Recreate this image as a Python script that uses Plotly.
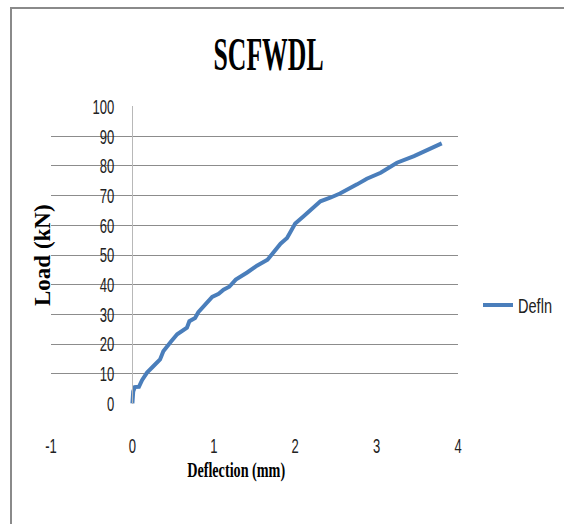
import plotly.graph_objects as go

# Data
deflection = [0.00, 0.01, 0.03, 0.08, 0.12, 0.18, 0.26, 0.34, 0.38, 0.42, 0.48, 0.55,
              0.61, 0.67, 0.70, 0.77, 0.81, 0.86, 0.92, 0.98, 1.06, 1.12, 1.19, 1.27,
              1.41, 1.53, 1.66, 1.82, 1.90, 1.96, 2.00, 2.10, 2.21, 2.31, 2.43, 2.55,
              2.76, 2.88, 3.05, 3.25, 3.46, 3.62, 3.80]
load = [0.0, 4.0, 5.5, 5.6, 7.9, 10.4, 12.6, 14.8, 17.6, 19.1, 21.0, 23.3,
        24.6, 25.5, 27.7, 28.8, 30.7, 32.2, 34.4, 35.9, 36.9, 38.3, 39.3, 41.7,
        44.1, 46.4, 48.4, 53.8, 55.7, 58.5, 60.6, 63.0, 65.9, 68.1, 69.3, 70.7,
        73.8, 75.7, 77.7, 81.1, 83.3, 85.3, 87.6]
x_ticks = [-1, 0, 1, 2, 3, 4]
x_tick_labels = ["-1", "0", "1", "2", "3", "4"]
y_ticks = [0, 10, 20, 30, 40, 50, 60, 70, 80, 90, 100]
series_name = "Defln"
chart_title = "SCFWDL"
x_title = "Deflection (mm)"
y_title = "Load (kN)"

sans = "Liberation Sans, Arial, sans-serif"
serif = "Liberation Serif, Times New Roman, serif"

L, R, T, B = 51, 106, 106, 120
W, H = 564 - L - R, 524 - T - B


def px(xp):
    return (xp - L) / W


def py(yp):
    return (524 - B - yp) / H


fig = go.Figure()
fig.add_trace(go.Scatter(
    x=deflection, y=load, mode="lines", name=series_name,
    line=dict(color="#4A7EBB", width=4),
))

fig.update_layout(
    width=564, height=524,
    margin=dict(l=L, r=R, t=T, b=B, autoexpand=False),
    paper_bgcolor="white", plot_bgcolor="white",
    showlegend=True,
    legend=dict(x=px(478), y=py(305), xanchor="left", yanchor="middle",
                font=dict(family=sans, size=20, color="#222"),
                bgcolor="rgba(0,0,0,0)", itemwidth=30),
    xaxis=dict(range=[-1, 4], tickvals=x_ticks, ticktext=x_tick_labels,
               showgrid=False, zeroline=False,
               showline=False, ticks="", ticklabelstandoff=27,
               tickfont=dict(family=sans, size=21, color="#222")),
    yaxis=dict(range=[-0.2, 100.2], tickvals=y_ticks, showgrid=True, gridcolor="#8c8c8c",
               gridwidth=1, zeroline=False, showline=True, linecolor="#b8b8b8",
               linewidth=1, anchor="free", position=0.2, ticks="",
               ticklabelstandoff=14,
               tickfont=dict(family=sans, size=21, color="#222")),
    annotations=[
        dict(text="<b>" + chart_title + "</b>", xref="paper", yref="paper",
             x=px(268), y=py(54), showarrow=False,
             font=dict(family=serif, size=47, color="black"),
             xanchor="center", yanchor="middle"),
        dict(text="<b>" + x_title + "</b>", xref="paper", yref="paper",
             x=px(236), y=py(470), showarrow=False,
             font=dict(family=serif, size=20, color="black"),
             xanchor="center", yanchor="middle"),
        dict(text="<b>" + y_title + "</b>", xref="paper", yref="paper",
             x=px(42), y=py(255), showarrow=False, textangle=-90,
             font=dict(family=serif, size=23, color="black"),
             xanchor="center", yanchor="middle"),
    ],
    shapes=[
        dict(type="rect", xref="paper", yref="paper",
             x0=px(11), x1=px(600), y0=py(560), y1=py(8),
             line=dict(color="#8a8a8a", width=2), fillcolor="rgba(0,0,0,0)", layer="below"),
    ],
)

# Condense the text horizontally (the reference uses narrow, condensed lettering)
post = """
var gd = document.getElementById('{plot_id}');
function squeezeEl(t, target) {
  var len = t.getComputedTextLength();
  if (!len) return;
  t.setAttribute('lengthAdjust', 'spacingAndGlyphs');
  t.setAttribute('textLength', target(len));
}
function squeeze() {
  gd.querySelectorAll('.xtick text, .ytick text').forEach(function (t) {
    squeezeEl(t, function (l) { return l * 0.62; });
  });
  gd.querySelectorAll('.legendtext').forEach(function (t) {
    squeezeEl(t, function (l) { return 34; });
  });
  gd.querySelectorAll('.annotation-text').forEach(function (t) {
    var s = t.textContent;
    if (s === 'SCFWDL') squeezeEl(t, function (l) { return 110; });
    else if (s.indexOf('Deflection') === 0) squeezeEl(t, function (l) { return 98; });
  });
}
squeeze();
"""

fig.write_html("out.html", post_script=post)
